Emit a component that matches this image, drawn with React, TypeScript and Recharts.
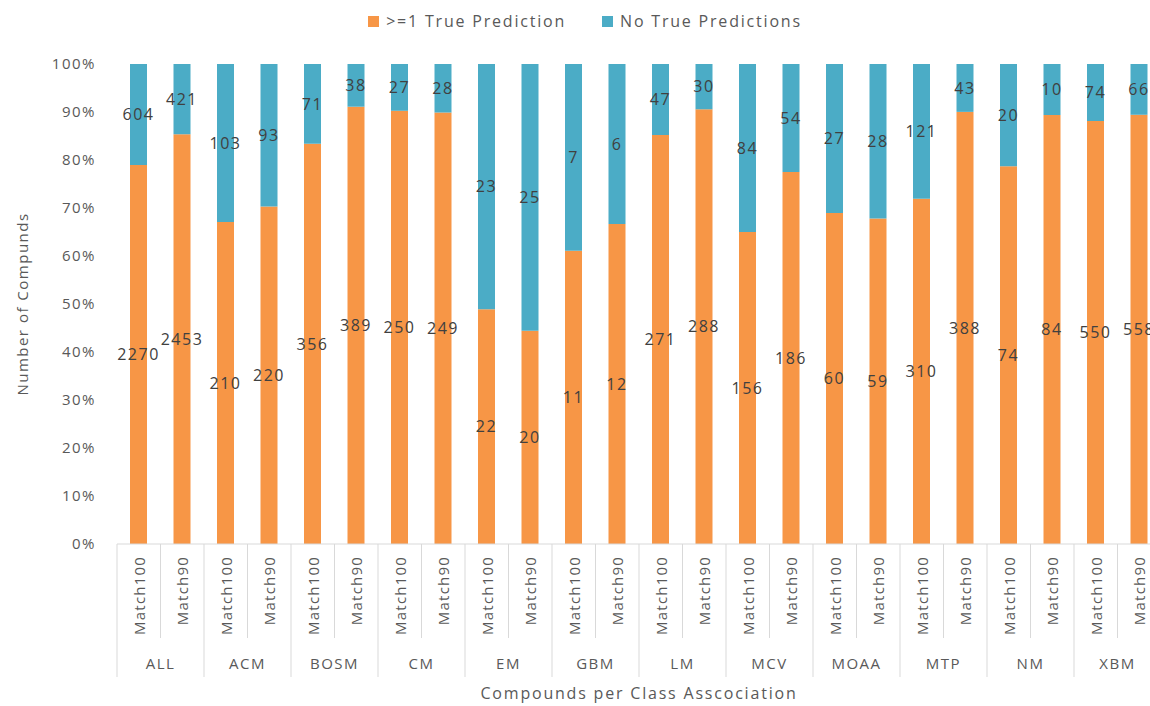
import React from 'react';
import { BarChart, Bar, XAxis, YAxis, LabelList } from 'recharts';

const groups = ['ALL', 'ACM', 'BOSM', 'CM', 'EM', 'GBM', 'LM', 'MCV', 'MOAA', 'MTP', 'NM', 'XBM'];
const matchTypes = ['Match100', 'Match90'];

// >=1 True Prediction counts
const posMatch100 = [2270, 210, 356, 250, 22, 11, 271, 156, 60, 310, 74, 550];
const posMatch90 = [2453, 220, 389, 249, 20, 12, 288, 186, 59, 388, 84, 558];
// No True Predictions counts
const negMatch100 = [604, 103, 71, 27, 23, 7, 47, 84, 27, 121, 20, 74];
const negMatch90 = [421, 93, 38, 28, 25, 6, 30, 54, 28, 43, 10, 66];

const yTicks = [0, 0.1, 0.2, 0.3, 0.4, 0.5, 0.6, 0.7, 0.8, 0.9, 1];

const data = groups.flatMap((g, i) => [
  { key: g + '|' + matchTypes[0], pos: posMatch100[i], neg: negMatch100[i] },
  { key: g + '|' + matchTypes[1], pos: posMatch90[i], neg: negMatch90[i] },
]);

const ORANGE = '#F79646';
const BLUE = '#4BACC6';
const TEXT = '#595959';
const LINE = '#D9D9D9';
const FONT = '"Open Sans", sans-serif';
const CAT_W = 43.5;

const CategoryTick = (props: any) => {
  const { x, y, payload } = props;
  const [group, match] = String(payload.value).split('|');
  const isFirst = match === matchTypes[0];
  const left = x - CAT_W / 2;
  return (
    <g>
      <line x1={left} x2={left} y1={y} y2={y + (isFirst ? 133 : 94)} stroke={LINE} />
      <text
        transform={`translate(${x}, ${y + 12}) rotate(-90)`}
        textAnchor="end"
        dominantBaseline="central"
        fontSize={15}
        letterSpacing={1.2}
        fill={TEXT}
        fontFamily={FONT}
      >
        {match}
      </text>
      {isFirst && (
        <text
          x={x + CAT_W / 2}
          y={y + 119}
          textAnchor="middle"
          dominantBaseline="central"
          fontSize={15}
          letterSpacing={1.5}
          fill={TEXT}
          fontFamily={FONT}
        >
          {group}
        </text>
      )}
    </g>
  );
};

const labelStyle = { fontSize: 16, fill: '#404040', fontFamily: FONT, letterSpacing: 1.5 };

export default function App() {
  return (
    <div style={{ position: 'absolute', left: 0, top: 0, width: 1150, height: 706, overflow: 'hidden', background: '#fff' }}>
      <div
        style={{
          position: 'absolute',
          top: 11,
          left: 0,
          width: 1170,
          display: 'flex',
          justifyContent: 'center',
          fontFamily: FONT,
          fontSize: 16,
          color: TEXT,
          letterSpacing: 1.8,
          lineHeight: '20px',
        }}
      >
        <span style={{ display: 'flex', alignItems: 'center', marginRight: 36 }}>
          <span style={{ width: 11, height: 11, background: ORANGE, display: 'inline-block', marginRight: 7 }} />
          {'>=1 True Prediction'}
        </span>
        <span style={{ display: 'flex', alignItems: 'center' }}>
          <span style={{ width: 11, height: 11, background: BLUE, display: 'inline-block', marginRight: 7 }} />
          No True Predictions
        </span>
      </div>
      <BarChart
        width={1170}
        height={706}
        data={data}
        stackOffset="expand"
        margin={{ top: 64, right: 9, left: 0, bottom: 0 }}
        barCategoryGap={0}
        barSize={17}
      >
        <XAxis
          dataKey="key"
          interval={0}
          height={162}
          tickLine={false}
          tickSize={0}
          tickMargin={0}
          axisLine={{ stroke: LINE }}
          tick={<CategoryTick />}
          label={{
            content: () => (
              <text x={639} y={693} textAnchor="middle" dominantBaseline="central" fontSize={16} letterSpacing={1.8} fill={TEXT} fontFamily={FONT}>
                Compounds  per Class Asscociation
              </text>
            ),
          }}
        />
        <YAxis
          width={117}
          domain={[0, 1]}
          ticks={yTicks}
          interval={0}
          tickFormatter={(v: number) => `${Math.round(v * 100)}%`}
          axisLine={false}
          tickLine={false}
          tickSize={0}
          tickMargin={21}
          tick={{ fontSize: 15, fill: TEXT, fontFamily: FONT, letterSpacing: 1.5 }}
          label={{
            content: () => (
              <text transform="translate(22, 304) rotate(-90)" textAnchor="middle" dominantBaseline="central" fontSize={15} letterSpacing={1.5} fill={TEXT} fontFamily={FONT}>
                Number of Compunds
              </text>
            ),
          }}
        />
        <Bar dataKey="pos" stackId="a" fill={ORANGE} isAnimationActive={false}>
          <LabelList dataKey="pos" position="center" style={labelStyle} />
        </Bar>
        <Bar dataKey="neg" stackId="a" fill={BLUE} isAnimationActive={false}>
          <LabelList dataKey="neg" position="center" style={labelStyle} />
        </Bar>
      </BarChart>
    </div>
  );
}
